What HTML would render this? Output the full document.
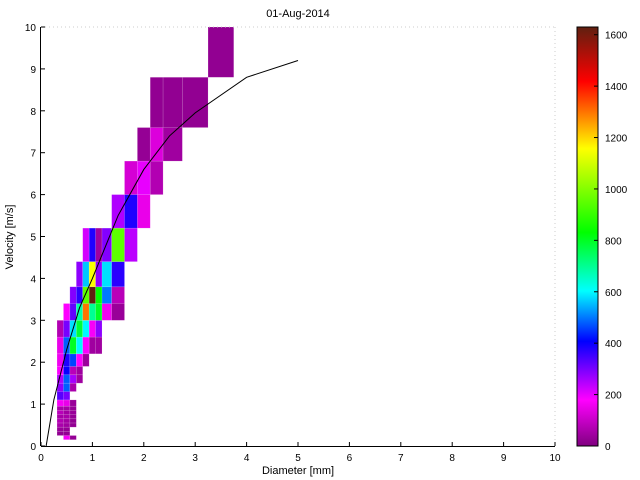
<!DOCTYPE html>
<html><head><meta charset="utf-8"><style>
body{margin:0;background:#fff;}
svg{display:block;font-family:"Liberation Sans",sans-serif;}
</style></head><body>
<svg id="chart" width="640" height="480">
<defs>
<linearGradient id="cbg" x1="0" y1="1" x2="0" y2="0">
<stop offset="0" stop-color="#800080"/><stop offset="0.11" stop-color="#ff00ff"/>
<stop offset="0.25" stop-color="#0000ff"/><stop offset="0.37" stop-color="#00ffff"/>
<stop offset="0.51" stop-color="#00ff00"/><stop offset="0.71" stop-color="#ffff00"/>
<stop offset="0.87" stop-color="#ff0000"/><stop offset="1" stop-color="#602010"/>
</linearGradient></defs>
<text x="298" y="17" font-size="11" text-anchor="middle">01-Aug-2014</text>
<g id="cells"></g>
<g id="axes"></g>
<rect x="577" y="27" width="21" height="419" fill="url(#cbg)" stroke="#000" stroke-width="1"/>
<g id="cbticks"></g>
<text x="298" y="474" font-size="11" text-anchor="middle">Diameter [mm]</text>
<text transform="translate(13,237) rotate(-90)" font-size="11" text-anchor="middle">Velocity [m/s]</text>
</svg>
<script>
const dEdges=[0.062,0.187,0.312,0.437,0.562,0.687,0.812,0.937,1.062,1.187,1.375,1.625,1.875,2.125,2.375,2.75,3.25,3.75,4.25];
const vEdges=[0.05,0.15,0.25,0.35,0.45,0.55,0.65,0.75,0.85,0.95,1.1,1.3,1.5,1.7,1.9,2.2,2.6,3.0,3.4,3.8,4.4,5.2,6.0,6.8,7.6,8.8,10.4];
const cellD=[3,4, 2,3, 2,3, 2,3,4, 2,3,4, 2,3,4, 2,3,4, 2,3,4, 2,3,4, 2,3, 2,3,4, 2,3,4,5, 2,3,4,5, 2,3,4,5,6, 2,3,4,5,6,7,8, 2,3,4,5,6,7,8, 3,4,5,6,7,8,9,10, 4,5,6,7,8,9,10, 5,6,7,8,9,10, 6,7,8,9,10,11, 10,11,12, 11,12,13, 12,13,14, 13,14,15, 16];
const cellV=[1,1, 2,2, 3,3, 4,4,4, 5,5,5, 6,6,6, 7,7,7, 8,8,8, 9,9,9, 10,10, 11,11,11, 12,12,12,12, 13,13,13,13, 14,14,14,14,14, 15,15,15,15,15,15,15, 16,16,16,16,16,16,16, 17,17,17,17,17,17,17,17, 18,18,18,18,18,18,18, 19,19,19,19,19,19, 20,20,20,20,20,20, 21,21,21, 22,22,22, 23,23,23, 24,24,24, 25];
const cellVal=[170,30, 25,25, 35,30, 60,45,25, 70,50,25, 55,60,30, 80,50,35, 60,55,30, 170,150,35, 330,300, 280,480,60, 250,480,260,45, 180,400,80,45, 160,380,460,180,40, 150,480,800,600,180,45, 45, 70,300,580,780,600,170,280, 180,320,680,1300,700,800,160,35, 290,370,950,1630,830,500,80, 280,560,1150,280,580,370, 220,380,45,290,950,240, 250,380,150, 120,200,70, 30,130,45, 25,25,25, 25];
const curveD=[0.1,0.25,0.5,0.75,1.0,1.5,2.0,2.5,3.0,4.0,5.0];
const curveV=[0.0,1.1,2.3,3.3,4.0,5.5,6.6,7.4,7.95,8.8,9.2];
const xTicks=[0,1,2,3,4,5,6,7,8,9,10];
const yTicks=[0,1,2,3,4,5,6,7,8,9,10];
const cbTicks=[0,200,400,600,800,1000,1200,1400,1600];
const cMax=1630;
const NS="http://www.w3.org/2000/svg";
const X0=41,X1=555,Y0=446,Y1=27;
const sx=d=>X0+(X1-X0)*d/10, sy=v=>Y0-(Y0-Y1)*v/10;
const stops=[[0,[128,0,128]],[0.11,[255,0,255]],[0.25,[0,0,255]],[0.37,[0,255,255]],[0.51,[0,255,0]],[0.71,[255,255,0]],[0.87,[255,0,0]],[1,[96,32,16]]];
function cmap(v){let t=Math.max(0,Math.min(1,v/cMax));for(let i=1;i<stops.length;i++){if(t<=stops[i][0]){const a=stops[i-1],b=stops[i],f=(t-a[0])/(b[0]-a[0]);return 'rgb('+a[1].map((c,k)=>Math.round(c+(b[1][k]-c)*f)).join(',')+')';}}return 'rgb(96,32,16)';}
function mk(t,a,p){const e=document.createElementNS(NS,t);for(const k in a)e.setAttribute(k,a[k]);p.appendChild(e);return e;}
const cg=document.getElementById('cells');
for(let i=0;i<cellVal.length;i++){
 const x=sx(dEdges[cellD[i]]),x2=sx(dEdges[cellD[i]+1]);
 const yTop=Math.max(Y1,sy(vEdges[cellV[i]+1])),yb=sy(vEdges[cellV[i]]);
 const r=mk('rect',{x:x,y:yTop,width:x2-x,height:yb-yTop,fill:cmap(cellVal[i]),stroke:'rgba(255,255,255,0.2)','stroke-width':0.6},cg);
 
 
}
const ax=document.getElementById('axes');
const pl=mk('polyline',{points:curveD.map((d,i)=>sx(d)+','+sy(curveV[i])).join(' '),fill:'none',stroke:'#000','stroke-width':1},ax);


mk('line',{x1:X0,y1:Y1,x2:X1,y2:Y1,stroke:'#ccc','stroke-dasharray':'1,3'},ax);
mk('line',{x1:X1,y1:Y1,x2:X1,y2:Y0,stroke:'#ccc','stroke-dasharray':'1,3'},ax);
mk('line',{x1:X0,y1:Y0+0.5,x2:X1,y2:Y0+0.5,stroke:'#000'},ax);
mk('line',{x1:X0-0.5,y1:Y1,x2:X0-0.5,y2:Y0,stroke:'#000'},ax);
xTicks.forEach(t=>{const x=sx(t);mk('line',{x1:x,y1:Y0,x2:x,y2:Y0-4,stroke:'#000'},ax);
 const tx=mk('text',{x:x,y:Y0+15,'font-size':10,'text-anchor':'middle'},ax);tx.textContent=t;
 
 });
yTicks.forEach(t=>{const y=sy(t);mk('line',{x1:X0,y1:y,x2:X0+4,y2:y,stroke:'#000'},ax);
 const tx=mk('text',{x:X0-5,y:y+4,'font-size':10,'text-anchor':'end'},ax);tx.textContent=t;
 
 });
const cb=document.getElementById('cbticks');
cbTicks.forEach(t=>{const y=446-419*t/cMax;mk('line',{x1:594,y1:y,x2:598,y2:y,stroke:'#000'},cb);
 const tx=mk('text',{x:605,y:y+4,'font-size':10},cb);tx.textContent=t;
 
 });
</script>
</body></html>
